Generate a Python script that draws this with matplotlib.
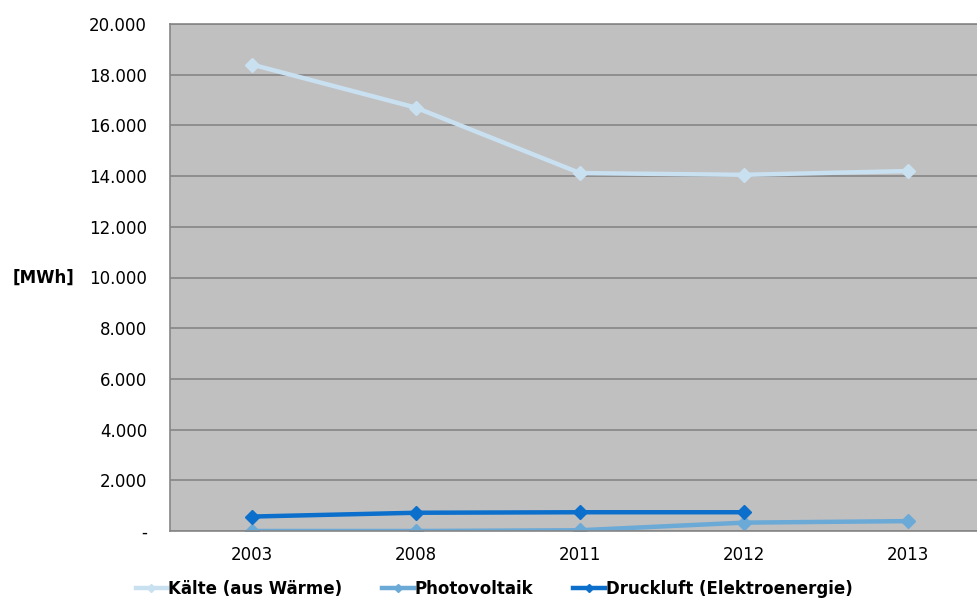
import matplotlib.pyplot as plt
from matplotlib.ticker import FuncFormatter

# data
years = ['2003', '2008', '2011', '2012', '2013']
kaelte = [18400, 16700, 14120, 14050, 14200]
photovoltaik = [0, 0, 30, 330, 390]
druckluft = [570, 720, 740, 740]

series_names = ['Kälte (aus Wärme)', 'Photovoltaik', 'Druckluft (Elektroenergie)']
colors = ['#c9e0f1', '#6ba9d7', '#0b6fcb']
y_ticks = [0, 2000, 4000, 6000, 8000, 10000, 12000, 14000, 16000, 18000, 20000]


def fmt(v, pos):
    if v == 0:
        return '-'
    return f'{int(v):,}'.replace(',', '.')


fig = plt.figure(figsize=(9.78, 5.99), dpi=100)
ax = fig.add_axes([170 / 978, 1 - 531 / 599, 820 / 978, 507 / 599])
ax.set_facecolor('#c0c0c0')

x = list(range(len(years)))
ax.plot(x, kaelte, color=colors[0], lw=3.2, marker='D', ms=7, label=series_names[0])
ax.plot(x, photovoltaik, color=colors[1], lw=3.2, marker='D', ms=7, label=series_names[1])
ax.plot(x[:len(druckluft)], druckluft, color=colors[2], lw=3.2, marker='D', ms=7, label=series_names[2])

ax.set_xlim(-0.5, 4.5)
ax.set_ylim(0, 20000)
ax.set_yticks(y_ticks)
ax.yaxis.set_major_formatter(FuncFormatter(fmt))
ax.set_xticks(x)
ax.set_xticklabels(years)
ax.grid(axis='y', color='#868686', lw=1.2)
ax.set_axisbelow(True)
ax.tick_params(length=0, labelsize=12)
ax.tick_params(axis='x', pad=11)
ax.tick_params(axis='y', pad=16.5)
for s in ax.spines.values():
    s.set_color('#868686')
    s.set_linewidth(1.2)

fig.text(44 / 978, 1 - 278 / 599, '[MWh]', fontsize=12, fontweight='bold', ha='center', va='center')

leg = fig.legend(loc='center', bbox_to_anchor=(494 / 978, 1 - 589 / 599), ncol=3, frameon=False,
                 prop={'weight': 'bold', 'size': 12}, handlelength=1.9, handletextpad=0.05,
                 columnspacing=2.4, markerscale=0.6)

fig.savefig('out.png', dpi=100)
